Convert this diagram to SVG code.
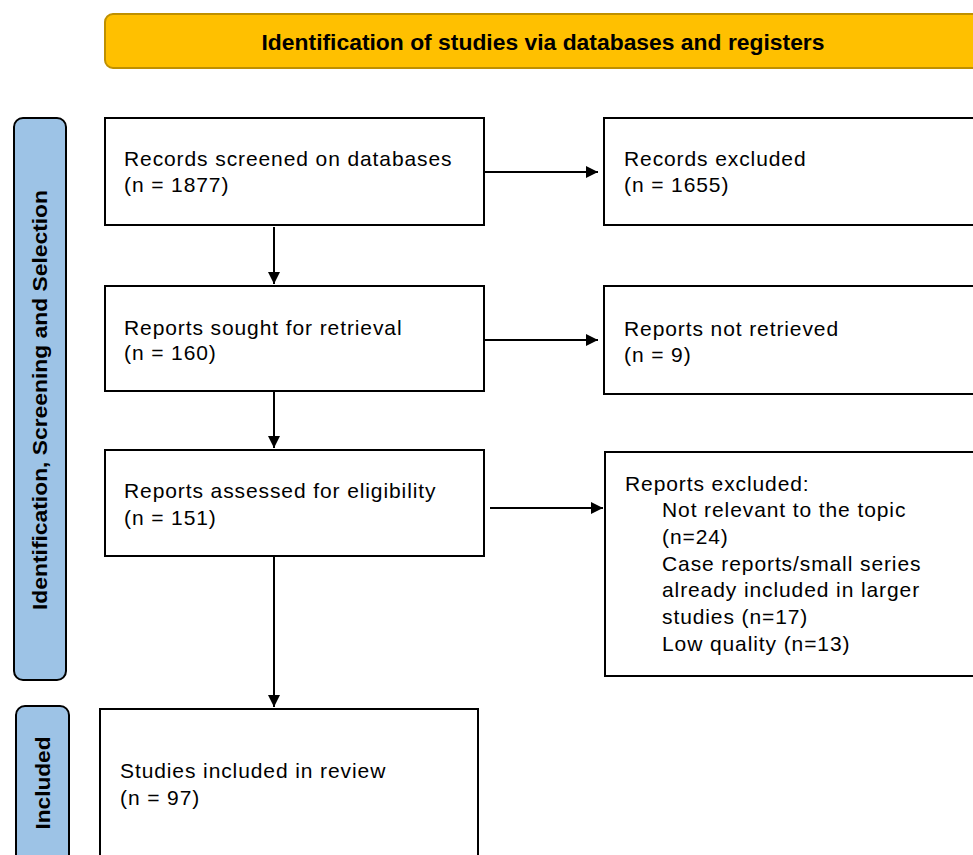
<svg xmlns="http://www.w3.org/2000/svg" width="973" height="855" viewBox="0 0 973 855">
<style>
.box{fill:#fff;stroke:#000;stroke-width:2}
.side{fill:#9DC3E6;stroke:#000;stroke-width:2}
.t{font-family:"Liberation Sans",Arial,sans-serif;font-size:21px;letter-spacing:0.9px;fill:#000}
.h{font-family:"Liberation Sans",Arial,sans-serif;font-size:21px;font-weight:bold;fill:#000}
.c{stroke:#000;stroke-width:2;fill:none;marker-end:url(#ah)}
</style>
<defs>
<marker id="ah" viewBox="0 0 10 10" refX="10" refY="5" markerWidth="13" markerHeight="12" markerUnits="userSpaceOnUse" orient="auto"><path d="M0,0 L10,5 L0,10 z" fill="#000"/></marker>
</defs>
<rect width="973" height="855" fill="#fff"/>
<g id="header">
<rect x="105" y="14" width="880" height="54" rx="8" fill="#FFC000" stroke="#BF9000" stroke-width="2"/>
<text class="h" x="543" y="50" text-anchor="middle" textLength="563" lengthAdjust="spacingAndGlyphs" style="font-size:22px">Identification of studies via databases and registers</text>
</g>
<g id="side-screening">
<rect class="side" x="14" y="118" width="52" height="562" rx="9"/>
<text class="h" transform="translate(47,400) rotate(-90)" text-anchor="middle" textLength="420" lengthAdjust="spacingAndGlyphs">Identification, Screening and Selection</text>
</g>
<g id="side-included">
<rect class="side" x="16" y="706" width="53" height="170" rx="9"/>
<text class="h" transform="translate(50,783) rotate(-90)" text-anchor="middle" textLength="93" lengthAdjust="spacingAndGlyphs">Included</text>
</g>
<g id="n1">
<rect class="box" x="105" y="118" width="379" height="107"/>
<text class="t" x="124" y="166">Records screened on databases</text>
<text class="t" x="124" y="192">(n = 1877)</text>
</g>
<g id="n2">
<rect class="box" x="604" y="118" width="380" height="107"/>
<text class="t" x="624" y="166">Records excluded</text>
<text class="t" x="624" y="192">(n = 1655)</text>
</g>
<g id="n3">
<rect class="box" x="105" y="286" width="379" height="105"/>
<text class="t" x="124" y="335">Reports sought for retrieval</text>
<text class="t" x="124" y="360">(n = 160)</text>
</g>
<g id="n4">
<rect class="box" x="604" y="286" width="380" height="108"/>
<text class="t" x="624" y="336">Reports not retrieved</text>
<text class="t" x="624" y="362">(n = 9)</text>
</g>
<g id="n5">
<rect class="box" x="105" y="450" width="379" height="106"/>
<text class="t" x="124" y="498">Reports assessed for eligibility</text>
<text class="t" x="124" y="525">(n = 151)</text>
</g>
<g id="n6">
<rect class="box" x="605" y="452" width="380" height="224"/>
<text class="t" x="625" y="491">Reports excluded:</text>
<text class="t" x="662" y="517">Not relevant to the topic</text>
<text class="t" x="662" y="544">(n=24)</text>
<text class="t" x="662" y="571">Case reports/small series</text>
<text class="t" x="662" y="597">already included in larger</text>
<text class="t" x="662" y="624">studies (n=17)</text>
<text class="t" x="662" y="651">Low quality (n=13)</text>
</g>
<g id="n7">
<rect class="box" x="100" y="709" width="378" height="170"/>
<text class="t" x="120" y="778">Studies included in review</text>
<text class="t" x="120" y="805">(n = 97)</text>
</g>
<g id="connectors">
<line class="c" x1="484" y1="172" x2="598" y2="172"/>
<line class="c" x1="274" y1="227" x2="274" y2="284"/>
<line class="c" x1="484" y1="340" x2="598" y2="340"/>
<line class="c" x1="274" y1="391" x2="274" y2="448"/>
<line class="c" x1="490" y1="508" x2="603" y2="508"/>
<line class="c" x1="274" y1="556" x2="274" y2="707"/>
</g>
</svg>
